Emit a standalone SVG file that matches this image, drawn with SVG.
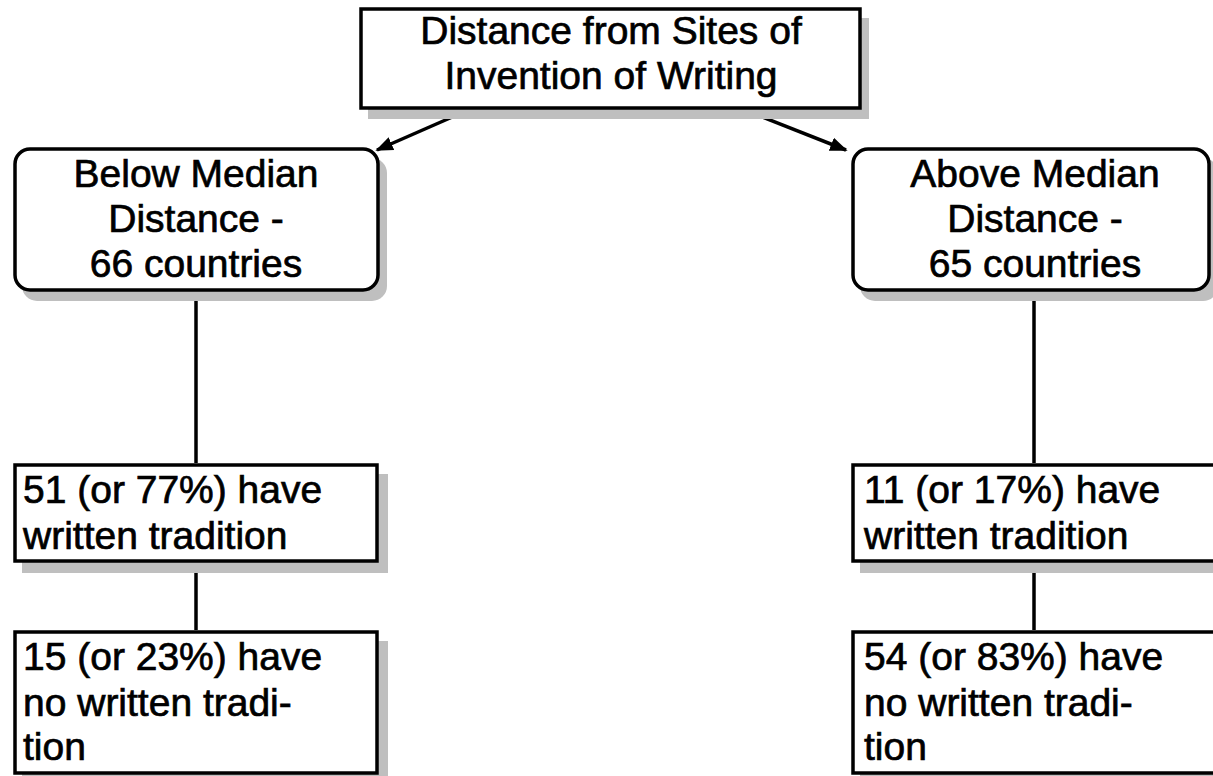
<svg xmlns="http://www.w3.org/2000/svg" width="1213" height="776" viewBox="0 0 1213 776">
<defs>
<style>
.box{fill:#ffffff;stroke:#000000;stroke-width:3.5}
.shadow{fill:#bfbfbf;stroke:none}
.t{font-family:"Liberation Sans",Arial,sans-serif;font-size:39px;fill:#000000;stroke:#000000;stroke-width:0.7}
.c{text-anchor:middle}
.edge{stroke:#000000;stroke-width:3.5;fill:none}
</style>
<marker id="arr" viewBox="0 0 10 10" refX="9" refY="5" markerWidth="5" markerHeight="5" markerUnits="strokeWidth" orient="auto">
<path d="M0,1 L10,5 L0,9 Z" fill="#000000"/>
</marker>
</defs>
<rect width="1213" height="776" fill="#ffffff"/>

<g id="connectors">
<line class="edge" x1="466" y1="111" x2="377" y2="150" marker-end="url(#arr)"/>
<line class="edge" x1="747" y1="111" x2="846" y2="150" marker-end="url(#arr)"/>
<line class="edge" x1="196" y1="292" x2="196" y2="463"/>
<line class="edge" x1="196" y1="563" x2="196" y2="630"/>
<line class="edge" x1="1034" y1="292" x2="1034" y2="463"/>
<line class="edge" x1="1034" y1="563" x2="1034" y2="630"/>
</g>

<g id="root">
<rect class="shadow" x="368" y="18" width="501" height="101"/>
<rect class="box" x="361" y="9" width="499" height="99"/>
<text class="t c" x="611" y="44">Distance from Sites of</text>
<text class="t c" x="611" y="89">Invention of Writing</text>
</g>

<g id="below">
<rect class="shadow" x="22" y="158" width="365" height="143" rx="15"/>
<rect class="box" x="15" y="149" width="363" height="141" rx="15"/>
<text class="t c" x="196" y="187">Below Median</text>
<text class="t c" x="196" y="232">Distance -</text>
<text class="t c" x="196" y="277">66 countries</text>
</g>

<g id="above">
<rect class="shadow" x="860" y="158" width="358" height="143" rx="15"/>
<rect class="box" x="853" y="149" width="356" height="141" rx="15"/>
<text class="t c" x="1035" y="187">Above Median</text>
<text class="t c" x="1035" y="232">Distance -</text>
<text class="t c" x="1035" y="277">65 countries</text>
</g>

<g id="below-written">
<rect class="shadow" x="22" y="474" width="366" height="99"/>
<rect class="box" x="15" y="465" width="362" height="96"/>
<text class="t" x="23" y="503">51 (or 77%) have</text>
<text class="t" x="23" y="549">written tradition</text>
</g>

<g id="below-unwritten">
<rect class="shadow" x="22" y="641" width="366" height="145"/>
<rect class="box" x="15" y="632" width="362" height="141"/>
<text class="t" x="23" y="670">15 (or 23%) have</text>
<text class="t" x="23" y="716">no written tradi-</text>
<text class="t" x="23" y="760">tion</text>
</g>

<g id="above-written">
<rect class="shadow" x="860" y="474" width="366" height="99"/>
<rect class="box" x="853" y="465" width="366" height="96"/>
<text class="t" x="864" y="503">11 (or 17%) have</text>
<text class="t" x="864" y="549">written tradition</text>
</g>

<g id="above-unwritten">
<rect class="shadow" x="860" y="641" width="366" height="145"/>
<rect class="box" x="853" y="632" width="366" height="141"/>
<text class="t" x="864" y="670">54 (or 83%) have</text>
<text class="t" x="864" y="716">no written tradi-</text>
<text class="t" x="864" y="760">tion</text>
</g>
</svg>
